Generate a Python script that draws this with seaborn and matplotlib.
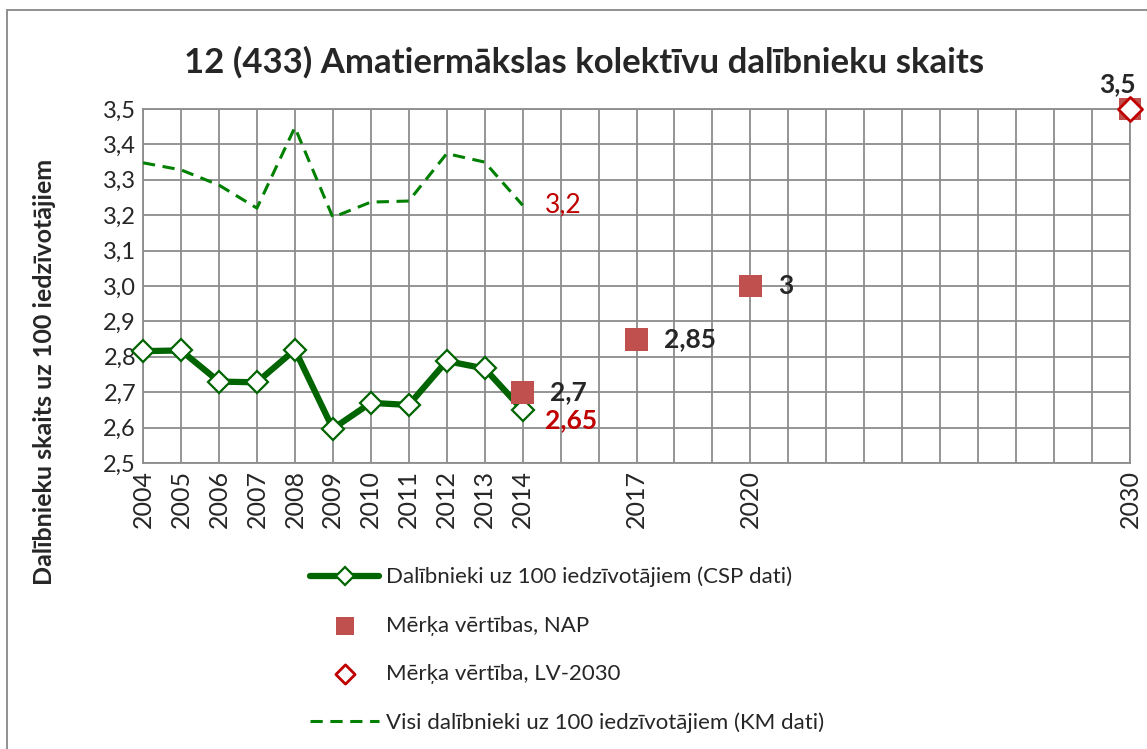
import matplotlib
matplotlib.use('Agg')
import matplotlib.pyplot as plt
import seaborn as sns
import numpy as np
from matplotlib.patches import Rectangle

years = [2004, 2005, 2006, 2007, 2008, 2009, 2010, 2011, 2012, 2013, 2014]
csp_values = [2.816, 2.818, 2.73, 2.728, 2.82, 2.597, 2.67, 2.664, 2.788, 2.767, 2.65]
km_values = [3.348, 3.328, 3.285, 3.22, 3.448, 3.194, 3.237, 3.24, 3.374, 3.35, 3.228]
nap_years = [2014, 2017, 2020, 2030]
nap_values = [2.7, 2.85, 3.0, 3.5]
lv_years = [2030]
lv_values = [3.5]
tick_years = [2004, 2005, 2006, 2007, 2008, 2009, 2010, 2011, 2012, 2013, 2014, 2017, 2020, 2030]

sns.set_style('white')
plt.rcParams['font.family'] = ['Lato', 'DejaVu Sans']

fig = plt.figure(figsize=(11.47, 7.49), dpi=100)
ax = fig.add_axes([0.1247, 0.3818, 0.8605, 0.4727])

grid_c = '#8c8c8c'
sns.lineplot(x=years, y=km_values, ax=ax, color='#008000', lw=2.2, linestyle=(0, (4, 2.5)),
             label='Visi dalībnieki uz 100 iedzīvotājiem (KM dati)', zorder=3)
sns.lineplot(x=years, y=csp_values, ax=ax, color='#006400', lw=4.5, marker='D', markersize=11,
             markerfacecolor='white', markeredgecolor='#006400', markeredgewidth=1.6,
             label='Dalībnieki uz 100 iedzīvotājiem (CSP dati)', zorder=4, clip_on=False)
sns.scatterplot(x=nap_years, y=nap_values, ax=ax, marker='s', s=270, color='#C0504D',
                edgecolor='none', label='Mērķa vērtības, NAP', zorder=5, clip_on=False)
sns.scatterplot(x=lv_years, y=lv_values, ax=ax, marker='D', s=150, facecolor='white',
                edgecolor='#C00000', linewidth=2, label='Mērķa vērtība, LV-2030', zorder=6,
                clip_on=False)

ax.set_xlim(2004, 2030)
ax.set_ylim(2.5, 3.5)
ax.set_xticks(np.arange(2004, 2031))
ax.set_xticklabels([str(y) if y in tick_years else '' for y in range(2004, 2031)],
                   rotation=90, fontsize=18)
ax.set_yticks(np.arange(2.5, 3.51, 0.1))
ax.set_yticklabels([f'{v:.1f}'.replace('.', ',') for v in np.arange(2.5, 3.51, 0.1)], fontsize=17)
ax.tick_params(length=0, pad=5)
ax.grid(True, color=grid_c, lw=1.3)
for s in ax.spines.values():
    s.set_color(grid_c)
    s.set_linewidth(1.3)

ax.set_title('12 (433) Amatiermākslas kolektīvu dalībnieku skaits', fontsize=25,
             fontweight='bold', pad=26, x=0.447)
ax.set_ylabel('Dalībnieku skaits uz 100 iedzīvotājiem', fontsize=18, fontweight='bold')
ax.yaxis.set_label_coords(-0.088, 0.257)

ax.annotate('3,2', (years[-1], km_values[-1]), xytext=(16, 0), textcoords='offset points',
            color='#C00000', fontsize=19, va='center')
ax.annotate('2,65', (years[-1], csp_values[-1]), xytext=(16, -7), textcoords='offset points',
            color='#C00000', fontsize=19, fontweight='bold', va='center')
for yr, v, lab in zip(nap_years[:3], nap_values[:3], ['2,7', '2,85', '3']):
    ax.annotate(lab, (yr, v), xytext=(20, 0), textcoords='offset points',
                fontsize=19, fontweight='bold', va='center')
ax.annotate('3,5', (nap_years[3], nap_values[3]), xytext=(-9, 18), textcoords='offset points',
            fontsize=19, fontweight='bold', ha='center', va='center')

h, l = ax.get_legend_handles_labels()
order = [1, 2, 3, 0]
ax.legend([h[i] for i in order], [l[i] for i in order], loc='upper left',
          bbox_to_anchor=(0.253, 0.27), bbox_transform=fig.transFigure, frameon=False,
          fontsize=16, labelspacing=1.27, handlelength=3.1, handletextpad=0.3,
          markerscale=0.8)

fig.patches.append(Rectangle((0.006, -0.01), 1.02, 0.997, transform=fig.transFigure,
                             fill=False, edgecolor='#888888', lw=1.3))

fig.savefig('out.png', dpi=100)
